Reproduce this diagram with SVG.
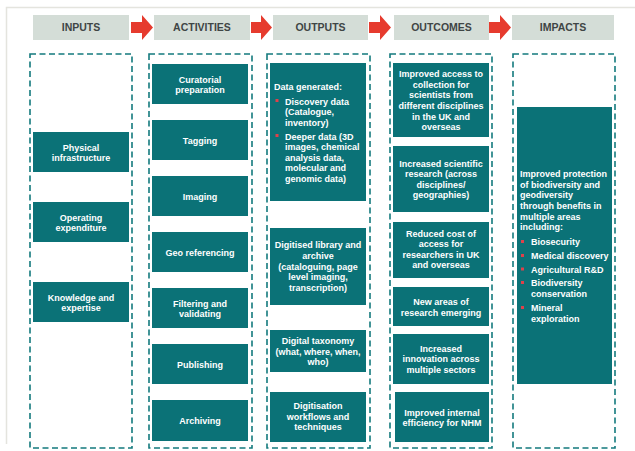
<svg xmlns="http://www.w3.org/2000/svg" width="635" height="451" viewBox="0 0 635 451">
<style>
.hdr{fill:#d4ddd7}
.hdrt{font-family:"Liberation Sans",Arial,sans-serif;font-weight:bold;font-size:10.5px;fill:#3f4545;text-anchor:middle}
.col{fill:none;stroke:#137a7d;stroke-width:1.6;stroke-dasharray:6,3.5}
.box{fill:#0b7277}
.t{font-family:"Liberation Sans",Arial,sans-serif;font-weight:bold;font-size:9px;fill:#ffffff;text-anchor:middle}
.l{font-family:"Liberation Sans",Arial,sans-serif;font-weight:bold;font-size:9px;fill:#ffffff}
.arr{fill:#e63b2e}
.bul{fill:#e0404a}
</style>
<rect width="635" height="451" fill="#ffffff"/>
<path d="M635,7.5 H6.5 V444" fill="none" stroke="#e4e4de" stroke-width="1.5"/>

<g id="connectors">
<path class="arr" d="M131,22 H142 V15 L153,27.5 L142,40 V33 H131 Z"/>
<path class="arr" d="M251,22 H261 V15 L272,27.5 L261,40 V33 H251 Z"/>
<path class="arr" d="M369,22 H380 V15 L391,27.5 L380,40 V33 H369 Z"/>
<path class="arr" d="M489,22 H500 V15 L511,27.5 L500,40 V33 H489 Z"/>
</g>

<g id="header-inputs"><rect class="hdr" x="33" y="15" width="96" height="25"/><text class="hdrt" x="81" y="31">INPUTS</text></g>
<g id="header-activities"><rect class="hdr" x="154" y="15" width="96" height="25"/><text class="hdrt" x="202" y="31">ACTIVITIES</text></g>
<g id="header-outputs"><rect class="hdr" x="273" y="15" width="95" height="25"/><text class="hdrt" x="320.5" y="31">OUTPUTS</text></g>
<g id="header-outcomes"><rect class="hdr" x="394" y="15" width="95" height="25"/><text class="hdrt" x="441.5" y="31">OUTCOMES</text></g>
<g id="header-impacts"><rect class="hdr" x="512" y="15" width="102" height="25"/><text class="hdrt" x="563" y="31">IMPACTS</text></g>

<g id="col-inputs"><rect class="col" x="30" y="54" width="102" height="394"/></g>
<g id="col-activities"><rect class="col" x="149" y="54" width="103" height="394"/></g>
<g id="col-outputs"><rect class="col" x="267" y="54" width="103" height="394"/></g>
<g id="col-outcomes"><rect class="col" x="390" y="54" width="102" height="394"/></g>
<g id="col-impacts"><rect class="col" x="513" y="54" width="102" height="394"/></g>

<g id="in-physical"><rect class="box" x="33" y="132" width="96" height="40"/><text class="t" x="81" y="150.5">Physical</text><text class="t" x="81" y="161">infrastructure</text></g>
<g id="in-operating"><rect class="box" x="33" y="202" width="96" height="40"/><text class="t" x="81" y="220.5">Operating</text><text class="t" x="81" y="231">expenditure</text></g>
<g id="in-knowledge"><rect class="box" x="33" y="282" width="96" height="40"/><text class="t" x="81" y="300.5">Knowledge and</text><text class="t" x="81" y="311">expertise</text></g>

<g id="act-curatorial"><rect class="box" x="152" y="64" width="96" height="40"/><text class="t" x="200" y="82.5">Curatorial</text><text class="t" x="200" y="93">preparation</text></g>
<g id="act-tagging"><rect class="box" x="152" y="120" width="96" height="40"/><text class="t" x="200" y="143.5">Tagging</text></g>
<g id="act-imaging"><rect class="box" x="152" y="176" width="96" height="40"/><text class="t" x="200" y="199.5">Imaging</text></g>
<g id="act-geo"><rect class="box" x="152" y="232" width="96" height="40"/><text class="t" x="200" y="255.5">Geo referencing</text></g>
<g id="act-filtering"><rect class="box" x="152" y="288" width="96" height="40"/><text class="t" x="200" y="306.5">Filtering and</text><text class="t" x="200" y="317">validating</text></g>
<g id="act-publishing"><rect class="box" x="152" y="344" width="96" height="40"/><text class="t" x="200" y="367.5">Publishing</text></g>
<g id="act-archiving"><rect class="box" x="152" y="400" width="96" height="41"/><text class="t" x="200" y="424">Archiving</text></g>

<g id="out-data"><rect class="box" x="270" y="63" width="96" height="138"/>
<text class="l" x="274" y="90">Data generated:</text>
<rect class="bul" x="275.5" y="99" width="3" height="3"/>
<text class="l" x="285" y="104.5">Discovery data</text>
<text class="l" x="285" y="115">(Catalogue,</text>
<text class="l" x="285" y="125.5">inventory)</text>
<rect class="bul" x="275.5" y="134" width="3" height="3"/>
<text class="l" x="285" y="139.5">Deeper data (3D</text>
<text class="l" x="285" y="150">images, chemical</text>
<text class="l" x="285" y="160.5">analysis data,</text>
<text class="l" x="285" y="171">molecular and</text>
<text class="l" x="285" y="181.5">genomic data)</text>
</g>
<g id="out-library"><rect class="box" x="270" y="228" width="96" height="77"/><text class="t" x="318" y="248.2">Digitised library and</text><text class="t" x="318" y="258.9">archive</text><text class="t" x="318" y="269.6">(cataloguing, page</text><text class="t" x="318" y="280.3">level imaging,</text><text class="t" x="318" y="291">transcription)</text></g>
<g id="out-taxonomy"><rect class="box" x="270" y="330" width="96" height="42"/><text class="t" x="318" y="344">Digital taxonomy</text><text class="t" x="318" y="354.6">(what, where, when,</text><text class="t" x="318" y="365.2">who)</text></g>
<g id="out-workflows"><rect class="box" x="270" y="392" width="96" height="50"/><text class="t" x="318" y="409">Digitisation</text><text class="t" x="318" y="419.6">workflows and</text><text class="t" x="318" y="430.2">techniques</text></g>

<g id="oc-access"><rect class="box" x="393" y="63" width="96" height="74"/><text class="t" x="441" y="77.2">Improved access to</text><text class="t" x="441" y="87.8">collection for</text><text class="t" x="441" y="98.4">scientists from</text><text class="t" x="441" y="109">different disciplines</text><text class="t" x="441" y="119.6">in the UK and</text><text class="t" x="441" y="130.2">overseas</text></g>
<g id="oc-research"><rect class="box" x="393" y="146" width="96" height="66"/><text class="t" x="441" y="166.5">Increased scientific</text><text class="t" x="441" y="177.1">research (across</text><text class="t" x="441" y="187.7">disciplines/</text><text class="t" x="441" y="198.3">geographies)</text></g>
<g id="oc-cost"><rect class="box" x="393" y="222" width="96" height="56"/><text class="t" x="441" y="236.5">Reduced cost of</text><text class="t" x="441" y="247.1">access for</text><text class="t" x="441" y="257.7">researchers in UK</text><text class="t" x="441" y="268.3">and overseas</text></g>
<g id="oc-newareas"><rect class="box" x="393" y="287" width="96" height="39"/><text class="t" x="441" y="305">New areas of</text><text class="t" x="441" y="315.6">research emerging</text></g>
<g id="oc-innovation"><rect class="box" x="393" y="334" width="96" height="50"/><text class="t" x="441" y="351.5">Increased</text><text class="t" x="441" y="362.1">innovation across</text><text class="t" x="441" y="372.7">multiple sectors</text></g>
<g id="oc-efficiency"><rect class="box" x="395" y="392" width="94" height="50"/><text class="t" x="442" y="415.5">Improved internal</text><text class="t" x="442" y="426.1">efficiency for NHM</text></g>

<g id="impact"><rect class="box" x="517" y="107" width="95" height="277"/>
<text class="l" x="520" y="177.2">Improved protection</text>
<text class="l" x="520" y="187.8">of biodiversity and</text>
<text class="l" x="520" y="198.4">geodiversity</text>
<text class="l" x="520" y="209">through benefits in</text>
<text class="l" x="520" y="219.6">multiple areas</text>
<text class="l" x="520" y="230.2">including:</text>
<rect class="bul" x="521" y="240" width="3" height="3"/><text class="l" x="531" y="245">Biosecurity</text>
<rect class="bul" x="521" y="254" width="3" height="3"/><text class="l" x="531" y="259">Medical discovery</text>
<rect class="bul" x="521" y="267.5" width="3" height="3"/><text class="l" x="531" y="272.5">Agricultural R&amp;D</text>
<rect class="bul" x="521" y="281" width="3" height="3"/><text class="l" x="531" y="286">Biodiversity</text>
<text class="l" x="531" y="296.6">conservation</text>
<rect class="bul" x="521" y="306" width="3" height="3"/><text class="l" x="531" y="311">Mineral</text>
<text class="l" x="531" y="321.6">exploration</text>
</g>
</svg>
